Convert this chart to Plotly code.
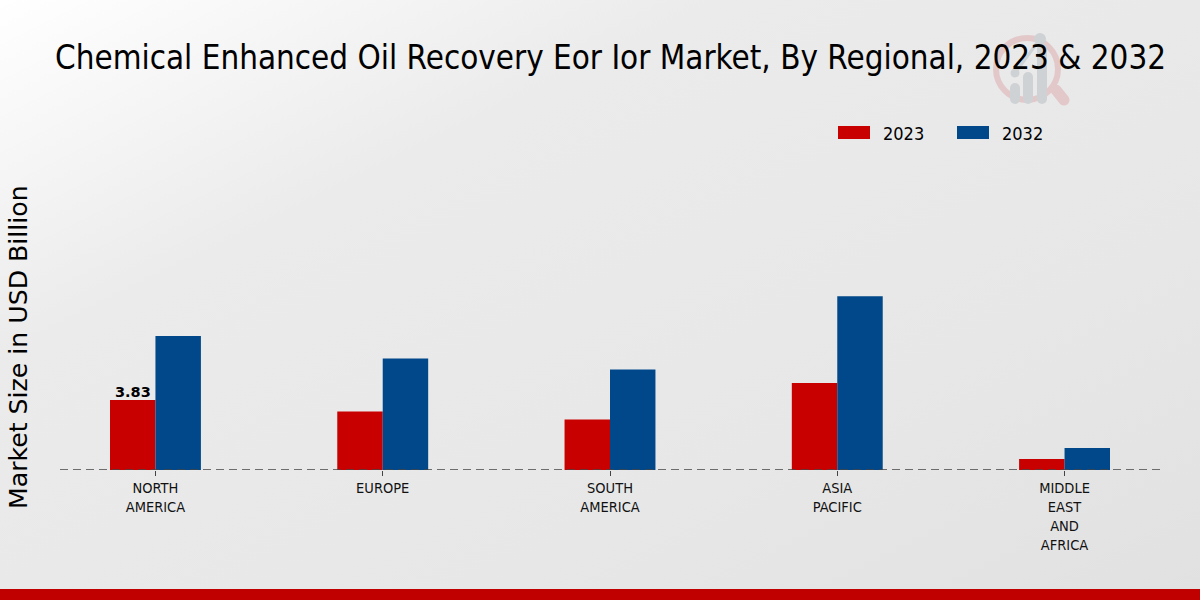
import plotly.graph_objects as go
import urllib.parse

title_text = "Chemical Enhanced Oil Recovery Eor Ior Market, By Regional, 2023 & 2032"
y_title = "Market Size in USD Billion"
categories = ["NORTH<br>AMERICA", "EUROPE", "SOUTH<br>AMERICA", "ASIA<br>PACIFIC", "MIDDLE<br>EAST<br>AND<br>AFRICA"]
values_2023 = [3.83, 3.2, 2.76, 4.76, 0.6]
values_2032 = [7.33, 6.1, 5.5, 9.5, 1.2]
labelled_value = "3.83"
RED = "#c90000"
BLUE = "#004889"
COND = "'DejaVu Sans Condensed', 'DejaVu Sans'"

W, H = 1200, 600
L, R, T, B = 60, 40, 100, 130

def px(x): return (x - L) / (W - L - R)
def py(y): return (H - B - y) / (H - T - B)

RING = "#e3c8ca"
GREY = "#cfd2d5"
bg = ("<svg xmlns='http://www.w3.org/2000/svg' width='1200' height='600' preserveAspectRatio='none'>"
      "<defs><linearGradient id='g' x1='0' y1='0' x2='1' y2='1'>"
      "<stop offset='0' stop-color='#ffffff'/><stop offset='0.3' stop-color='#ebebeb'/>"
      "<stop offset='0.7' stop-color='#e7e7e7'/><stop offset='1' stop-color='#e1e1e1'/>"
      "</linearGradient></defs><rect width='1200' height='600' fill='url(#g)'/>"
      f"<circle cx='1027' cy='69' r='31' fill='none' stroke='{RING}' stroke-width='6'/>"
      f"<line x1='1056' y1='90' x2='1064' y2='100' stroke='{RING}' stroke-width='11' stroke-linecap='round'/>"
      f"<rect x='1010' y='83' width='10' height='21' rx='5' fill='{GREY}'/>"
      f"<rect x='1023' y='72' width='10' height='32' rx='5' fill='{GREY}'/>"
      f"<rect x='1037' y='44' width='10' height='60' rx='5' fill='{GREY}'/>"
      f"<line x1='1015' y1='73' x2='1040' y2='39' stroke='{GREY}' stroke-width='3'/>"
      f"<circle cx='1015' cy='73' r='4.5' fill='{GREY}'/>"
      f"<circle cx='1040' cy='39' r='6' fill='{GREY}'/>"
      "</svg>")
bg_uri = "data:image/svg+xml," + urllib.parse.quote(bg)

fig = go.Figure()
fig.add_bar(name="2023", x=categories, y=values_2023, marker=dict(color=RED, line=dict(width=0)))
fig.add_bar(name="2032", x=categories, y=values_2032, marker=dict(color=BLUE, line=dict(width=0)))

shapes = []
def pshape(kind, x0, y0, x1, y1, **kw):
    shapes.append(dict(type=kind, xref="paper", yref="paper", x0=px(x0), x1=px(x1), y0=py(y0), y1=py(y1), **kw))

# footer band
pshape("rect", 0, 589, 1200, 600, fillcolor="#c00000", line_width=0, layer="below")
# dashed baseline
shapes.append(dict(type="line", xref="paper", yref="y", x0=0, x1=1, y0=0, y1=0,
                   line=dict(color="#444444", width=1.5, dash="8px,5px")))
# legend swatches
pshape("rect", 838, 126, 870, 139, fillcolor=RED, line_width=0)
pshape("rect", 957, 126, 989, 139, fillcolor=BLUE, line_width=0)

def ann(text, x, y, size, family=COND, xanchor="center", **kw):
    return dict(text=text, xref="paper", yref="paper", x=px(x), y=py(y), showarrow=False,
                xanchor=xanchor, yanchor="middle",
                font=dict(family=family, size=size, color="#000000"), **kw)

annotations = [
    ann(title_text, 610, 57, 32.9),
    ann("2023", 881, 133, 18, xanchor="left"),
    ann("2032", 1000, 133, 18, xanchor="left"),
    ann(y_title, 18, 347, 25.2, family="DejaVu Sans", textangle=-90),
    dict(text=labelled_value, xref="x", yref="y", x=categories[0], y=values_2023[0], xshift=-22.75, yshift=-2,
         showarrow=False, xanchor="center", yanchor="bottom",
         font=dict(family="DejaVu Sans", size=14.5, color="#000000", weight="bold")),
]

fig.update_layout(
    width=W, height=H,
    autosize=False,
    barmode="group", bargap=0.6, bargroupgap=0,
    showlegend=False,
    margin=dict(l=L, r=R, t=T, b=B, autoexpand=False),
    paper_bgcolor="#e8e8e8", plot_bgcolor="rgba(0,0,0,0)",
    images=[dict(source=bg_uri, xref="paper", yref="paper", x=px(0), y=py(0),
                 sizex=1200 / (W - L - R), sizey=600 / (H - T - B),
                 xanchor="left", yanchor="top", sizing="stretch", layer="below")],
    shapes=shapes, annotations=annotations,
    xaxis=dict(type="category", range=[-0.42, 4.42], showgrid=False, showline=False, zeroline=False,
               ticks="outside", ticklen=5, tickwidth=1, tickcolor="#444444", tickangle=0,
               tickfont=dict(family=COND, size=14.5, color="#111111")),
    yaxis=dict(range=[0, 370 / 18.28], visible=False, showgrid=False, zeroline=False),
)
fig.write_html("out.html", config=dict(displayModeBar=False),
               post_script="document.documentElement.style.overflow='hidden';document.body.style.margin='0';document.body.style.overflow='hidden';")
